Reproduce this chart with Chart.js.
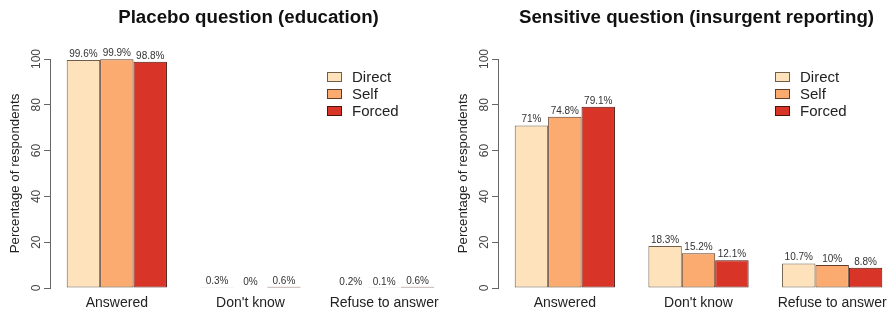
<!DOCTYPE html>
<html lang="en">
<head>
<meta charset="UTF-8">
<title>Placebo vs sensitive question</title>
<script src="https://cdn.jsdelivr.net/npm/chart.js"></script>
<style>
    html, body { margin: 0; padding: 0; background: #fff; overflow: hidden; }
    body { width: 891px; height: 312px; position: relative; font-family: "Liberation Sans", Arial, sans-serif; }
    .panel { position: absolute; top: 0; width: 455px; height: 312px; }
</style>
</head>
<body>
<div class="panel" style="left:0"><canvas id="placeboChart"></canvas></div>
<div class="panel" style="left:448px"><canvas id="sensitiveChart"></canvas></div>

<script>
// data
const categories = ['Answered', "Don't know", 'Refuse to answer'];
const seriesNames = ['Direct', 'Self', 'Forced'];
const yTicks = [0, 20, 40, 60, 80, 100];

const placeboDirect = [99.6, 0.3, 0.2];
const placeboSelf = [99.9, 0, 0.1];
const placeboForced = [98.8, 0.6, 0.6];

const sensitiveDirect = [71, 18.3, 10.7];
const sensitiveSelf = [74.8, 15.2, 10];
const sensitiveForced = [79.1, 12.1, 8.8];

const fills = ['#fde2bb', '#fbab6f', '#d83427'];
const borders = ['#6e5e4a', '#5e3c26', '#4c140e'];
const FONT = '"Liberation Sans", Arial, sans-serif';

// R-style decorations: rotated y tick labels, value labels, legend, title
const decorPlugin = {
    id: 'decor',
    afterDraw(chart, args, opts) {
        const ctx = chart.ctx;
        const area = chart.chartArea;
        const y = chart.scales.y;
        ctx.save();

        // y tick labels, parallel to the axis
        ctx.fillStyle = '#444';
        ctx.font = '12px ' + FONT;
        ctx.textAlign = 'center';
        ctx.textBaseline = 'middle';
        yTicks.forEach(v => {
            ctx.save();
            ctx.translate(area.left - 13, y.getPixelForValue(v));
            ctx.rotate(-Math.PI / 2);
            ctx.fillText(String(v), 0, 0);
            ctx.restore();
        });

        // value labels above bars
        ctx.fillStyle = '#333';
        ctx.font = '10px ' + FONT;
        ctx.textBaseline = 'alphabetic';
        chart.data.datasets.forEach((ds, i) => {
            chart.getDatasetMeta(i).data.forEach((bar, j) => {
                ctx.fillText(ds.data[j] + '%', bar.x, bar.y - 3);
            });
        });

        // legend
        ctx.font = '15px ' + FONT;
        ctx.textAlign = 'left';
        ctx.textBaseline = 'middle';
        chart.data.datasets.forEach((ds, i) => {
            const ly = area.top + 18 + i * 17;
            const lx = area.left + 277;
            ctx.fillStyle = ds.backgroundColor;
            ctx.strokeStyle = ds.borderColor;
            ctx.lineWidth = 1;
            ctx.fillRect(lx, ly - 5, 15, 10);
            ctx.strokeRect(lx + 0.5, ly - 4.5, 14, 9);
            ctx.fillStyle = '#222';
            ctx.fillText(ds.label, lx + 25, ly + 1);
        });

        // panel title
        ctx.font = 'bold 18.7px ' + FONT;
        ctx.textAlign = 'center';
        ctx.fillStyle = '#111';
        ctx.fillText(opts.title, (area.left + area.right) / 2 - 2, 18);

        ctx.restore();
    }
};

function makeChart(id, title, direct, self, forced) {
    const values = [direct, self, forced];
    return new Chart(document.getElementById(id), {
        type: 'bar',
        data: {
            labels: categories,
            datasets: seriesNames.map((name, i) => ({
                label: name,
                data: values[i],
                backgroundColor: fills[i],
                borderColor: borders[i],
                borderWidth: 1,
                borderSkipped: false,
                categoryPercentage: 0.75,
                barPercentage: 1.0
            }))
        },
        options: {
            responsive: true,
            maintainAspectRatio: false,
            animation: false,
            events: [],
            layout: { padding: { top: 59, right: 4, left: 0, bottom: 0 } },
            plugins: {
                legend: { display: false },
                tooltip: { enabled: false },
                decor: { title: title }
            },
            scales: {
                x: {
                    grid: { display: false, drawTicks: false },
                    border: { display: false },
                    ticks: { color: '#222', font: { family: FONT, size: 14 }, padding: 7, maxRotation: 0 },
                    afterFit: s => { s.height = 24; }
                },
                y: {
                    min: 0,
                    max: 100,
                    ticks: { stepSize: 20, color: 'rgba(0,0,0,0)', font: { size: 12 } },
                    grid: { drawOnChartArea: false, drawTicks: true, tickLength: 6, color: '#666' },
                    border: { display: true, color: '#666' },
                    title: {
                        display: true,
                        text: 'Percentage of respondents',
                        color: '#222',
                        font: { family: FONT, size: 13.3 },
                        padding: { top: 7, bottom: 0 }
                    },
                    afterFit: s => { s.width = 50; }
                }
            }
        },
        plugins: [decorPlugin]
    });
}

makeChart('placeboChart', 'Placebo question (education)', placeboDirect, placeboSelf, placeboForced);
makeChart('sensitiveChart', 'Sensitive question (insurgent reporting)', sensitiveDirect, sensitiveSelf, sensitiveForced);
</script>
</body>
</html>
